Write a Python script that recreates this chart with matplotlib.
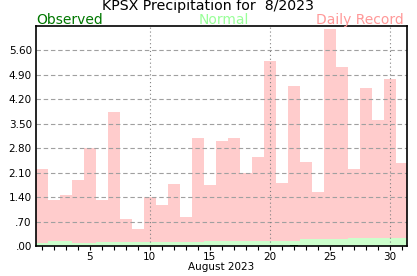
"""KPSX 8/2023 降水 — 观测/常年/日极值 柱状图"""

import numpy as np
import matplotlib
matplotlib.use("Agg")
import matplotlib.pyplot as plt
from matplotlib.ticker import MultipleLocator, FixedLocator

days = list(range(1, 32))
daily_record = [2.20, 1.32, 1.46, 1.89, 2.80, 1.32, 3.84, 0.78, 0.49, 1.40,
                1.17, 1.78, 0.83, 3.09, 1.75, 3.01, 3.09, 2.10, 2.55, 5.30,
                1.80, 4.58, 2.40, 1.55, 6.21, 5.12, 2.20, 4.52, 3.62, 4.78,
                2.38]
normal = [0.09, 0.13, 0.13, 0.10, 0.10, 0.12, 0.12, 0.12, 0.12, 0.12,
          0.12, 0.12, 0.12, 0.12, 0.15, 0.15, 0.15, 0.15, 0.15, 0.15,
          0.15, 0.15, 0.19, 0.19, 0.19, 0.19, 0.22, 0.22, 0.22, 0.22,
          0.22]
observed = [0.0] * 21 + [0.04] + [0.0] * 9
y_ticks = [0.0, 0.70, 1.40, 2.10, 2.80, 3.50, 4.20, 4.90, 5.60]
y_labels = [".00", ".70", "1.40", "2.10", "2.80", "3.50", "4.20", "4.90", "5.60"]
x_major = [5, 10, 15, 20, 25, 30]
x_grid = [10, 20, 30]

fig = plt.figure(figsize=(4.17, 2.76), dpi=100)
ax = fig.add_axes([0.0863, 0.1087, 0.8897, 0.7971])

ax.bar(days, daily_record, width=1.0, color="#ffcccc", zorder=1)
ax.bar(days, normal, width=1.0, color="#ccffcc", zorder=2)
ax.bar(days, observed, width=0.7, color="#006600", zorder=3)

ax.set_xlim(0.5, 31.45)
ax.set_ylim(0, 6.3)

ax.set_yticks(y_ticks)
ax.set_yticklabels(y_labels, fontsize=7.5)
ax.tick_params(axis="y", length=0, pad=3)
ax.xaxis.set_major_locator(FixedLocator(x_major))
ax.xaxis.set_minor_locator(MultipleLocator(1))
ax.set_xticklabels([str(d) for d in x_major], fontsize=7.5)
ax.tick_params(axis="x", which="both", length=3, width=0.8, pad=1, direction="out")

# 网格画在柱子上面
for y in y_ticks[1:]:
    ax.axhline(y, color="#a0a0a0", linestyle=(0, (4, 2.5)), linewidth=0.8, zorder=4)
for x in x_grid:
    ax.axvline(x, color="#808080", linestyle=(0, (1, 2.5)), linewidth=0.8, zorder=4)

for s in ax.spines.values():
    s.set_color("black")
    s.set_linewidth(1.2)
    s.set_zorder(5)

ax.set_xlabel("August 2023", fontsize=7.5, labelpad=0)

fig.text(0.5, 0.979, "KPSX Precipitation for  8/2023", ha="center", va="center",
         fontsize=10.2, color="black")
fig.text(0.0863, 0.929, "Observed", ha="left", va="center", fontsize=10, color="#007700")
fig.text(0.536, 0.929, "Normal", ha="center", va="center", fontsize=10, color="#99ff99")
fig.text(0.968, 0.929, "Daily Record", ha="right", va="center", fontsize=10, color="#ff9999")

fig.savefig("out.png", dpi=100)
